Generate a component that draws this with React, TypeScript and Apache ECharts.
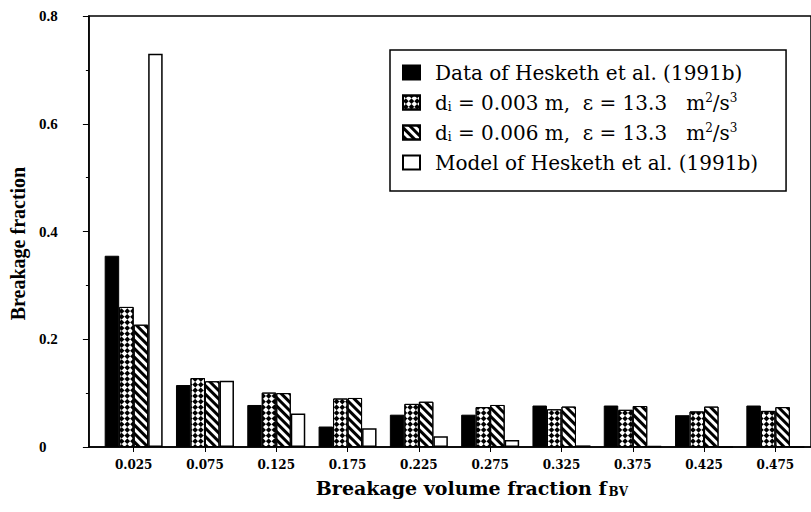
import React, { useEffect, useRef } from "react";
import * as echarts from "echarts";

const xValues = [0.025, 0.075, 0.125, 0.175, 0.225, 0.275, 0.325, 0.375, 0.425, 0.475];
const xTickLabels = ["0.025", "0.075", "0.125", "0.175", "0.225", "0.275", "0.325", "0.375", "0.425", "0.475"];
const seriesNames = [
  "Data of Hesketh et al. (1991b)",
  "d_i = 0.003 m, e = 13.3 m2/s3",
  "d_i = 0.006 m, e = 13.3 m2/s3",
  "Model of Hesketh et al. (1991b)",
];
const legendLabels = [
  "Data of Hesketh et al. (1991b)",
  "d{sub|i} = 0.003 m,  ε = 13.3   m{sup|2}/s{sup|3}",
  "d{sub|i} = 0.006 m,  ε = 13.3   m{sup|2}/s{sup|3}",
  "Model of Hesketh et al. (1991b)",
];
const dataHesketh = [0.355, 0.115, 0.078, 0.038, 0.06, 0.06, 0.077, 0.077, 0.059, 0.077];
const model003 = [0.26, 0.128, 0.101, 0.09, 0.08, 0.074, 0.07, 0.069, 0.066, 0.067];
const model006 = [0.227, 0.122, 0.1, 0.091, 0.084, 0.078, 0.075, 0.076, 0.075, 0.074];
const modelHesketh = [0.73, 0.123, 0.062, 0.035, 0.02, 0.013, 0.003, 0.002, 0, 0];

const SERIF = "DejaVu Serif";

export default function App() {
  const ref = useRef<HTMLDivElement>(null);
  useEffect(() => {
    if (!ref.current) return;
    const chart = echarts.init(ref.current, null, { renderer: "svg" });
    const pair = (vals: number[]) => xValues.map((x, i) => [x, vals[i]]);
    const baseBar = {
      type: "bar" as const,
      barWidth: 14.5,
      barGap: "0%",
    };
    chart.setOption({
      animation: false,
      backgroundColor: "#fff",
      grid: {
        left: 88,
        top: 16,
        width: 725,
        height: 431,
        show: true,
        borderColor: "#000",
        borderWidth: 1.5,
        backgroundColor: "transparent",
      },
      legend: {
        orient: "vertical",
        left: 390,
        top: 50,
        padding: [12, 28, 18, 12],
        itemWidth: 17,
        itemHeight: 14,
        itemGap: 9,
        borderColor: "#000",
        borderWidth: 1.5,
        icon: "rect",
        data: seriesNames,
        formatter: (name: string) => legendLabels[seriesNames.indexOf(name)],
        textStyle: {
          fontFamily: SERIF,
          fontSize: 20,
          lineHeight: 21,
          color: "#000",
          padding: [0, 0, 0, 10],
          rich: {
            sub: { fontFamily: SERIF, fontSize: 12, lineHeight: 21, verticalAlign: "bottom", color: "#000" },
            sup: { fontFamily: SERIF, fontSize: 12, lineHeight: 21, verticalAlign: "top", color: "#000" },
          },
        },
      },
      xAxis: {
        type: "value",
        min: -0.0064,
        max: 0.5,
        name: "Breakage volume fraction {f|f}{sub|BV}",
        nameLocation: "middle",
        nameGap: 31,
        nameTextStyle: {
          fontFamily: SERIF,
          fontWeight: "bold",
          fontSize: 19,
          color: "#000",
          padding: [0, 0, 0, 44],
          rich: {
            f: { fontFamily: SERIF, fontWeight: "bold", fontSize: 19, color: "#000" },
            sub: { fontFamily: SERIF, fontWeight: "bold", fontSize: 12, color: "#000", verticalAlign: "bottom", padding: [8, 0, 0, 2] },
          },
        },
        axisLine: { show: true, onZero: false, lineStyle: { color: "#000", width: 1.5 } },
        axisTick: { show: true, customValues: xValues, length: 5, lineStyle: { color: "#000", width: 1 } },
        axisLabel: {
          customValues: xValues,
          formatter: (v: number) => {
            const i = xValues.findIndex((x) => Math.abs(x - v) < 1e-9);
            return i >= 0 ? xTickLabels[i] : "";
          },
          margin: 12,
          fontFamily: SERIF,
          fontWeight: "bold",
          fontSize: 12,
          color: "#000",
        },
        splitLine: { show: false },
      },
      yAxis: {
        type: "value",
        min: 0,
        max: 0.8,
        interval: 0.2,
        name: "Breakage fraction",
        nameLocation: "middle",
        nameGap: 53,
        nameTextStyle: {
          fontFamily: "Liberation Serif",
          fontWeight: "bold",
          fontSize: 20,
          color: "#000",
          padding: [0, 24, 0, 0],
        },
        axisLine: { show: true, onZero: false, lineStyle: { color: "#000", width: 1.5 } },
        axisTick: { show: true, length: 6, lineStyle: { color: "#000", width: 1 } },
        minorTick: { show: true, splitNumber: 2, length: 3, lineStyle: { color: "#000", width: 1 } },
        axisLabel: {
          align: "left",
          margin: 50,
          fontFamily: "Liberation Serif",
          fontWeight: "bold",
          fontSize: 15,
          color: "#000",
          formatter: (v: number) => (v === 0 ? "0" : v.toFixed(1)),
        },
        splitLine: { show: false },
      },
      series: [
        {
          ...baseBar,
          name: seriesNames[0],
          data: pair(dataHesketh),
          itemStyle: { color: "#000", borderColor: "#000", borderWidth: 1 },
        },
        {
          ...baseBar,
          name: seriesNames[1],
          data: pair(model003),
          itemStyle: {
            color: "#fff",
            borderColor: "#000",
            borderWidth: 1,
            decal: {
              symbol: "rect",
              symbolSize: 1,
              color: "#000",
              dashArrayX: [[4, 4], [0, 4, 4, 0]],
              dashArrayY: [4, 0],
              rotation: Math.PI / 4,
            },
          },
        },
        {
          ...baseBar,
          name: seriesNames[2],
          data: pair(model006),
          itemStyle: {
            color: "#fff",
            borderColor: "#000",
            borderWidth: 1,
            decal: {
              symbol: "rect",
              symbolSize: 1,
              color: "#000",
              dashArrayX: [1, 0],
              dashArrayY: [2.5, 3],
              rotation: Math.PI / 4,
            },
          },
        },
        {
          ...baseBar,
          name: seriesNames[3],
          data: pair(modelHesketh),
          itemStyle: { color: "#fff", borderColor: "#000", borderWidth: 1.5 },
        },
      ],
    });
    return () => chart.dispose();
  }, []);
  return (
    <div
      ref={ref}
      style={{ position: "absolute", left: 0, top: 0, width: 811, height: 512, background: "#fff" }}
    />
  );
}
